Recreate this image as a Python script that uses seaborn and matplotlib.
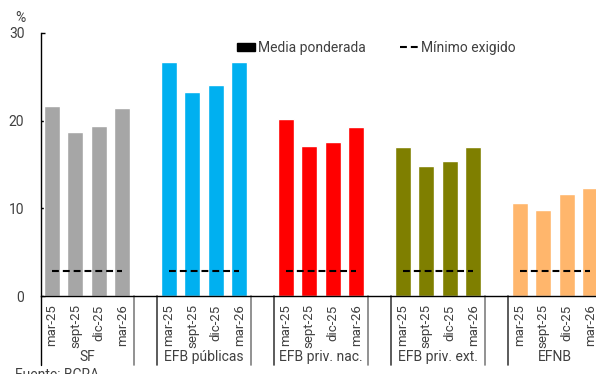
import numpy as np
import pandas as pd
import matplotlib
matplotlib.use("Agg")
import matplotlib.pyplot as plt
import matplotlib.transforms as mtransforms
from matplotlib.patches import Patch
from matplotlib.lines import Line2D
import seaborn as sns

# ---------------- data ----------------
groups = ["SF", "EFB públicas", "EFB priv. nac.", "EFB priv. ext.", "EFNB"]
periods = ["mar-25", "sept-25", "dic-25", "mar-26"]
sf = [21.7, 18.7, 19.4, 21.4]
efb_publicas = [26.7, 23.3, 24.1, 26.7]
efb_priv_nac = [20.2, 17.1, 17.6, 19.3]
efb_priv_ext = [17.0, 14.8, 15.4, 17.0]
efnb = [10.6, 9.8, 11.6, 12.3]
minimo = [2.9, 2.9, 2.9, 2.9]
colors = ["#A6A6A6", "#00B0F0", "#FF0000", "#7F7F00", "#FFB66C"]

series = [sf, efb_publicas, efb_priv_nac, efb_priv_ext, efnb]

rows = []
for g, (name, vals) in enumerate(zip(groups, series)):
    for i, (p, v) in enumerate(zip(periods, vals)):
        rows.append({"pos": g * 5 + i, "group": name, "period": p,
                     "value": v, "minimo": minimo[i]})
df = pd.DataFrame(rows)

# ---------------- style ----------------
sns.set_theme(style="white")
plt.rcParams["font.family"] = ["Roboto", "DejaVu Sans"]
txt_color = "#404040"

fig = plt.figure(figsize=(5.96, 3.74), dpi=100)
ax = fig.add_axes([41 / 596, 1 - 296 / 374, 1 - 41 / 596, 263 / 374])

sns.barplot(data=df, x="pos", y="value", hue="group", palette=colors,
            native_scale=True, dodge=False, width=0.68, saturation=1,
            legend=False, ax=ax)

sns.lineplot(data=df, x="pos", y="minimo", units="group", estimator=None,
             color="black", linewidth=1.5, dashes=False, ax=ax)
for line in ax.get_lines():
    line.set_dashes((3.3, 1.9))

ax.set_xlim(-0.47, 23.25)
ax.set_ylim(0, 30)
ax.set_yticks([0, 10, 20, 30])
ax.set_xticks(df["pos"])
ax.set_xticklabels(df["period"], rotation=90)
ax.set_xlabel("")
ax.set_ylabel("")
ax.tick_params(axis="x", length=0, pad=6, labelsize=9.5, labelcolor=txt_color)
ax.tick_params(axis="y", direction="in", length=3, width=1, color="black",
               pad=12, labelsize=10, labelcolor=txt_color, left=True)
for s in ["top", "right"]:
    ax.spines[s].set_visible(False)
for s in ["left", "bottom"]:
    ax.spines[s].set_color("black")
    ax.spines[s].set_linewidth(1)

# group labels and separators under the axis
trans = mtransforms.blended_transform_factory(ax.transData, ax.transAxes)
depth = -(365 - 296) / 263
ax.plot([-0.47, -0.47], [0, depth], color="black", lw=1,
        transform=trans, clip_on=False)
for g, name in enumerate(groups):
    ax.text(g * 5 + 1.5, -(357 - 296) / 263, name, transform=trans,
            ha="center", va="center", fontsize=10, color=txt_color)
    if g < len(groups) - 1:
        ax.plot([g * 5 + 3.5] * 2, [0, depth], color="#7F7F7F", lw=1.2,
                transform=trans, clip_on=False)
        ax.plot([g * 5 + 4.5] * 2, [0, depth], color="#404040", lw=1.2,
                transform=trans, clip_on=False)

# legend
handles = [Patch(facecolor="black", edgecolor="black"),
           Line2D([0], [0], color="black", lw=1.5, dashes=(3.3, 1.9))]
fig.legend(handles, ["Media ponderada", "Mínimo exigido"],
           loc="center left", bbox_to_anchor=(237 / 596, 1 - 48 / 374),
           ncol=2, frameon=False, fontsize=10, handlelength=1.3,
           handleheight=0.55, handletextpad=0.2, columnspacing=2.5,
           borderpad=0, borderaxespad=0, labelcolor=txt_color)

fig.text(20 / 596, 1 - 18 / 374, "%", ha="center", va="center",
         fontsize=10, color=txt_color)
fig.text(15 / 596, 1 - 368 / 374, "Fuente: BCRA", ha="left", va="top",
         fontsize=10, color=txt_color)

fig.savefig("out.png", dpi=100)
